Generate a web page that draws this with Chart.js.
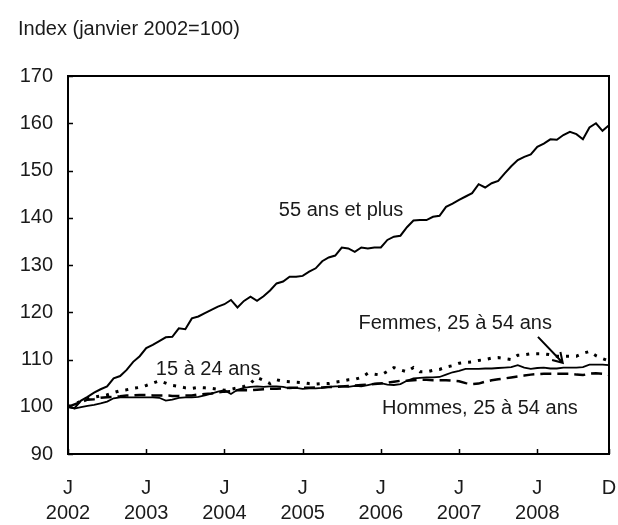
<!DOCTYPE html>
<html>
<head>
<meta charset="utf-8">
<script src="https://cdn.jsdelivr.net/npm/chart.js@4.4.1/dist/chart.umd.min.js"></script>
<style>
  html, body { margin: 0; padding: 0; background: #fff; }
</style>
</head>
<body>
<canvas id="mainChart" width="618" height="525"></canvas>
<script>
// Données mensuelles, janvier 2002 à décembre 2008 (index janvier 2002 = 100)
const ans55plus = [
  100, 99.7, 101.3, 102.1, 103.0, 103.7, 104.3, 106.0, 106.5, 107.8, 109.5, 110.7,
  112.4, 113.1, 113.9, 114.7, 114.8, 116.6, 116.4, 118.7, 119.1, 119.8, 120.5, 121.2,
  121.7, 122.6, 121.0, 122.4, 123.3, 122.4, 123.4, 124.6, 126.1, 126.5, 127.5, 127.5,
  127.7, 128.6, 129.3, 130.8, 131.6, 132.0, 133.7, 133.5, 132.8, 133.7, 133.5, 133.7,
  133.7, 135.3, 136.0, 136.2, 138.0, 139.4, 139.5, 139.5, 140.2, 140.4, 142.3, 143.0,
  143.8, 144.5, 145.2, 147.1, 146.4, 147.3, 147.8, 149.4, 150.9, 152.2, 152.9, 153.4,
  155.0, 155.7, 156.6, 156.5, 157.5, 158.2, 157.7, 156.6, 159.1, 160.0, 158.4, 159.6
];
const femmes25a54 = [
  100, 99.6, 99.9, 100.2, 100.4, 100.7, 101.1, 101.8, 102.0, 102.0, 102.0, 102.0,
  102.0, 102.0, 101.9, 101.3, 101.5, 101.9, 102.0, 102.0, 102.1, 102.4, 102.8, 103.2,
  103.5, 102.7, 103.6, 104.0, 104.2, 104.3, 104.2, 104.3, 104.3, 104.2, 103.9, 104.0,
  103.8, 103.9, 103.9, 104.0, 104.2, 104.3, 104.3, 104.2, 104.4, 104.3, 104.6, 104.9,
  105.0, 104.7, 104.6, 104.8, 105.5, 106.0, 106.1, 106.2, 106.2, 106.3, 106.8, 107.3,
  107.6, 108.0, 108.0, 108.0, 108.1, 108.1, 108.2, 108.3, 108.4, 108.8, 108.3, 108.0,
  108.2, 108.3, 108.1, 108.1, 108.3, 108.3, 108.3, 108.4, 108.9, 108.9, 108.9, 108.8
];
const hommes25a54 = [
  100, 100.5, 101.0, 101.5, 101.6, 101.9, 102.0, 102.1, 102.2, 102.4, 102.4, 102.5,
  102.5, 102.4, 102.4, 102.4, 102.3, 102.3, 102.4, 102.4, 102.6, 102.7, 102.8, 103.0,
  103.2, 103.3, 103.5, 103.5, 103.5, 103.6, 103.7, 103.8, 103.8, 103.9, 104.0, 104.0,
  104.0, 104.0, 104.1, 104.1, 104.2, 104.2, 104.3, 104.4, 104.5, 104.6, 104.7, 104.8,
  104.9, 105.1, 105.3, 105.5, 105.5, 105.6, 105.7, 105.7, 105.6, 105.6, 105.6, 105.5,
  105.4, 105.0, 104.8, 104.9, 105.3, 105.6, 105.8, 106.0, 106.2, 106.4, 106.6, 106.8,
  106.9, 107.0, 107.0, 107.0, 107.0, 107.0, 106.8, 106.7, 107.0, 107.1, 107.0, 106.7
];
const ans15a24 = [
  100, 100.6, 101.2, 101.7, 102.0, 102.3, 102.5, 103.0, 103.4, 103.6, 103.9, 104.1,
  104.5, 105.0, 105.5, 105.0, 104.5, 104.3, 104.0, 103.9, 104.1, 104.0, 103.9, 103.7,
  103.5, 103.7, 104.0, 104.3, 105.0, 106.2, 105.6, 104.9, 105.7, 105.4, 105.3, 105.2,
  105.1, 104.9, 104.8, 104.9, 104.9, 105.2, 105.4, 105.7, 105.8, 106.2, 107.1, 106.9,
  106.7, 107.5, 108.3, 107.8, 107.4, 108.3, 107.4, 107.4, 107.7, 107.9, 108.4, 108.7,
  109.2, 109.4, 109.5, 109.8, 110.0, 110.3, 110.4, 110.2, 110.0, 110.9, 111.0, 111.2,
  111.2, 111.2, 111.0, 110.7, 110.7, 110.7, 110.7, 111.3, 111.7, 110.8, 110.2, 109.7
];

// Graduations de l'axe horizontal (indice du mois)
const tickMonths = [0, 12, 24, 36, 48, 60, 72, 83];
const monthLetters = ['J', 'J', 'J', 'J', 'J', 'J', 'J', 'D'];
const yearLabels = ['2002', '2003', '2004', '2005', '2006', '2007', '2008', ''];

// Étiquettes dans le graphique : texte, mois, valeur
const seriesLabels = [
  { text: '55 ans et plus', month: 41.9, value: 141.6 },
  { text: '15 à 24 ans', month: 21.5, value: 107.8 },
  { text: 'Femmes, 25 à 54 ans', month: 59.4, value: 117.7 },
  { text: 'Hommes, 25 à 54 ans', month: 63.2, value: 99.7 }
];
const arrowFrom = { month: 72.1, value: 114.8 };
const arrowTo = { month: 75.9, value: 109.3 };

const FONT = '"Liberation Sans", Arial, sans-serif';
Chart.defaults.font.family = FONT;
Chart.defaults.color = '#1a1a1a';

function toPoints(arr){
  return arr.map((v, i) => ({ x: i, y: v }));
}

// Cadre et petites graduations tournées vers l'intérieur
const framePlugin = {
  id: 'frame',
  afterDraw(chart){
    const { ctx, chartArea: a, scales } = chart;
    ctx.save();
    ctx.strokeStyle = '#000';
    ctx.lineWidth = 2;
    ctx.strokeRect(a.left, a.top, a.right - a.left, a.bottom - a.top);
    ctx.lineWidth = 1.5;
    ctx.beginPath();
    scales.y.ticks.forEach(t => {
      const y = Math.round(scales.y.getPixelForValue(t.value)) + 0.5;
      ctx.moveTo(a.left, y);
      ctx.lineTo(a.left + 5, y);
    });
    scales.x.ticks.forEach(t => {
      const x = Math.round(scales.x.getPixelForValue(t.value)) + 0.5;
      ctx.moveTo(x, a.bottom);
      ctx.lineTo(x, a.bottom - 5);
    });
    ctx.stroke();
    ctx.restore();
  }
};

const labelsPlugin = {
  id: 'seriesLabels',
  afterDatasetsDraw(chart){
    const { ctx, scales } = chart;
    ctx.save();
    ctx.fillStyle = '#1a1a1a';
    ctx.font = '20px ' + FONT;
    ctx.textAlign = 'center';
    ctx.textBaseline = 'middle';
    seriesLabels.forEach(l => {
      ctx.fillText(l.text, scales.x.getPixelForValue(l.month), scales.y.getPixelForValue(l.value));
    });
    // flèche vers la série des femmes
    const x1 = scales.x.getPixelForValue(arrowFrom.month), y1 = scales.y.getPixelForValue(arrowFrom.value);
    const x2 = scales.x.getPixelForValue(arrowTo.month), y2 = scales.y.getPixelForValue(arrowTo.value);
    const ang = Math.atan2(y2 - y1, x2 - x1);
    ctx.strokeStyle = '#000';
    ctx.lineWidth = 2;
    ctx.beginPath();
    ctx.moveTo(x1, y1);
    ctx.lineTo(x2, y2);
    ctx.moveTo(x2 - 11 * Math.cos(ang - 0.55), y2 - 11 * Math.sin(ang - 0.55));
    ctx.lineTo(x2, y2);
    ctx.lineTo(x2 - 11 * Math.cos(ang + 0.55), y2 - 11 * Math.sin(ang + 0.55));
    ctx.stroke();
    ctx.restore();
  }
};

const ctx = document.getElementById('mainChart').getContext('2d');
new Chart(ctx, {
  type: 'line',
  data: {
    datasets: [
      { label: '15 à 24 ans', data: toPoints(ans15a24), borderColor: '#000', borderWidth: 3, borderDash: [3, 7], borderCapStyle: 'butt' },
      { label: 'Hommes, 25 à 54 ans', data: toPoints(hommes25a54), borderColor: '#000', borderWidth: 2.5, borderDash: [11, 6] },
      { label: 'Femmes, 25 à 54 ans', data: toPoints(femmes25a54), borderColor: '#000', borderWidth: 1.8 },
      { label: '55 ans et plus', data: toPoints(ans55plus), borderColor: '#000', borderWidth: 2 }
    ]
  },
  options: {
    responsive: false,
    animation: false,
    devicePixelRatio: 1,
    elements: { point: { radius: 0 }, line: { tension: 0 } },
    layout: { padding: { left: 18, right: 9, top: 5, bottom: 1 } },
    plugins: {
      legend: { display: false },
      tooltip: { enabled: false },
      title: {
        display: true,
        text: 'Index (janvier 2002=100)',
        align: 'start',
        color: '#1a1a1a',
        font: { size: 20, weight: 'normal' },
        padding: { top: 12, bottom: 35 }
      }
    },
    scales: {
      x: {
        type: 'linear',
        min: 0,
        max: 83,
        afterBuildTicks: (scale) => { scale.ticks = tickMonths.map(v => ({ value: v })); },
        afterFit: (scale) => { scale.height = 70; scale.paddingLeft = 0; scale.paddingRight = 0; },
        ticks: {
          autoSkip: false,
          maxRotation: 0,
          padding: 22,
          color: '#1a1a1a',
          font: { size: 20, lineHeight: 1.25 },
          callback: (v) => {
            const i = tickMonths.indexOf(v);
            return [monthLetters[i], yearLabels[i]];
          }
        },
        grid: { display: false, drawTicks: false },
        border: { display: false }
      },
      y: {
        min: 90,
        max: 170,
        afterFit: (scale) => { scale.width = 50; scale.paddingTop = 0; scale.paddingBottom = 0; },
        ticks: { stepSize: 10, padding: 15, color: '#1a1a1a', font: { size: 20 } },
        grid: { display: false, drawTicks: false },
        border: { display: false }
      }
    }
  },
  plugins: [framePlugin, labelsPlugin]
});
</script>
</body>
</html>
